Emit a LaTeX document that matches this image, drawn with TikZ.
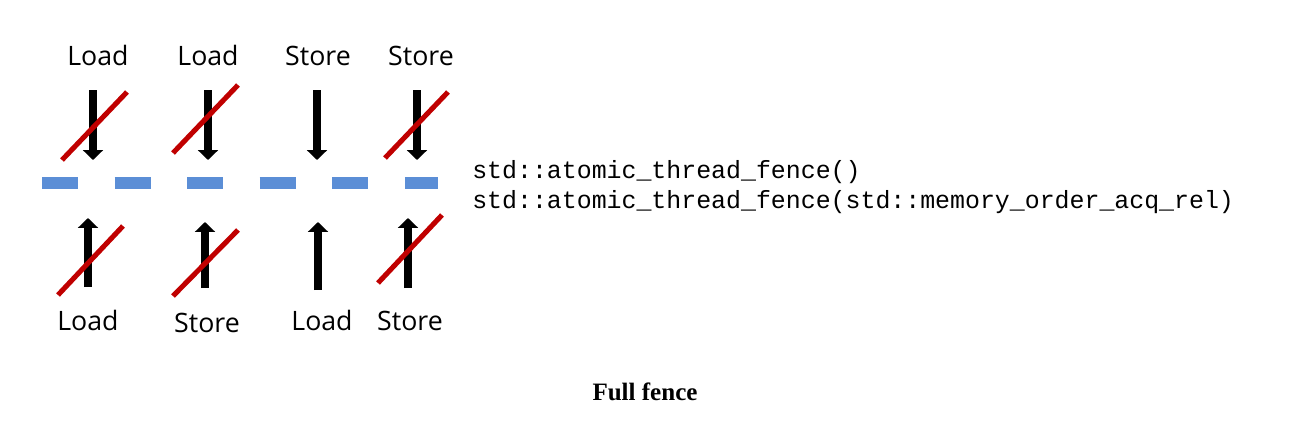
\documentclass[tikz,border=0pt]{standalone}
\usepackage{fontspec}
\setmainfont{Liberation Serif}
\newfontfamily\opfont{Open Sans}
\newfontfamily\codefont{Liberation Mono}
\usetikzlibrary{arrows.meta,positioning}
\definecolor{barred}{HTML}{C00000}
\definecolor{fenceblue}{HTML}{5B8ED6}
\tikzset{
    op/.style={anchor=base, inner sep=0pt, font=\opfont\fontsize{19}{22}\selectfont},
    code/.style={anchor=base west, inner sep=0pt, font=\codefont\fontsize{17.7}{21}\selectfont},
    order/.style={line width=5.6pt, -{Triangle[width=14pt,length=7pt]}},
    barline/.style={draw=barred, line width=3.6pt},
    fence/.style={draw=fenceblue, line width=8.5pt, dash pattern=on 25.6pt off 26pt},
}

\begin{document}
\begin{tikzpicture}[x=0.025cm, y=-0.025cm]
  \useasboundingbox (0,0) rectangle (1307,422);

  % OPERACIONES ANTERIORES
  \node [op] (load1) at (98,65)  {Load};
  \node [op] (load2) at (208,65) {Load};
  \node [op] (store3) at (318,65) {Store};
  \node [op] (store4) at (421,65) {Store};

  \coordinate (d1a) at (93,90);  \coordinate (d1b) at (93,160);
  \coordinate (d2a) at (208,90); \coordinate (d2b) at (208,160);
  \coordinate (d3a) at (317,90); \coordinate (d3b) at (317,160);
  \coordinate (d4a) at (417,90); \coordinate (d4b) at (417,160);
  \draw[order] (d1a) -- (d1b);
  \draw[order] (d2a) -- (d2b);
  \draw[order] (d3a) -- (d3b);
  \draw[order] (d4a) -- (d4b);

  \coordinate (x1a) at (62,160);  \coordinate (x1b) at (127,92);
  \coordinate (x2a) at (173,153); \coordinate (x2b) at (238,85);
  \coordinate (x4a) at (385,158); \coordinate (x4b) at (448,92);
  \draw[barline] (x1a) -- (x1b);
  \draw[barline] (x2a) -- (x2b);
  \draw[barline] (x4a) -- (x4b);

  % BARRERA
  \coordinate (fleft) at (42,183);
  \coordinate (fright) at (438,183);
  \draw[fence] (fleft) -- (fright);

  % OPERACIONES POSTERIORES
  \node [op] (load5) at (88,330)  {Load};
  \node [op] (store6) at (207,332) {Store};
  \node [op] (load7) at (322,330) {Load};
  \node [op] (store8) at (410,330) {Store};

  \coordinate (u1a) at (88,287);  \coordinate (u1b) at (88,218);
  \coordinate (u2a) at (205,288); \coordinate (u2b) at (205,222);
  \coordinate (u3a) at (318,290); \coordinate (u3b) at (318,222);
  \coordinate (u4a) at (408,288); \coordinate (u4b) at (408,218);
  \draw[order] (u1a) -- (u1b);
  \draw[order] (u2a) -- (u2b);
  \draw[order] (u3a) -- (u3b);
  \draw[order] (u4a) -- (u4b);

  \coordinate (y1a) at (58,295);  \coordinate (y1b) at (123,226);
  \coordinate (y2a) at (173,296); \coordinate (y2b) at (238,230);
  \coordinate (y4a) at (378,283); \coordinate (y4b) at (442,215);
  \draw[barline] (y1a) -- (y1b);
  \draw[barline] (y2a) -- (y2b);
  \draw[barline] (y4a) -- (y4b);

  % CODIGO
  \node [code] (call1) at (472,178) {std::atomic\_thread\_fence()};
  \node [code] (call2) at (472,208) {std::atomic\_thread\_fence(std::memory\_order\_acq\_rel)};

  \node [anchor=base, inner sep=0pt, font=\bfseries\fontsize{17.8}{20}\selectfont] (caption) at (645,400) {Full fence};
\end{tikzpicture}
\end{document}
